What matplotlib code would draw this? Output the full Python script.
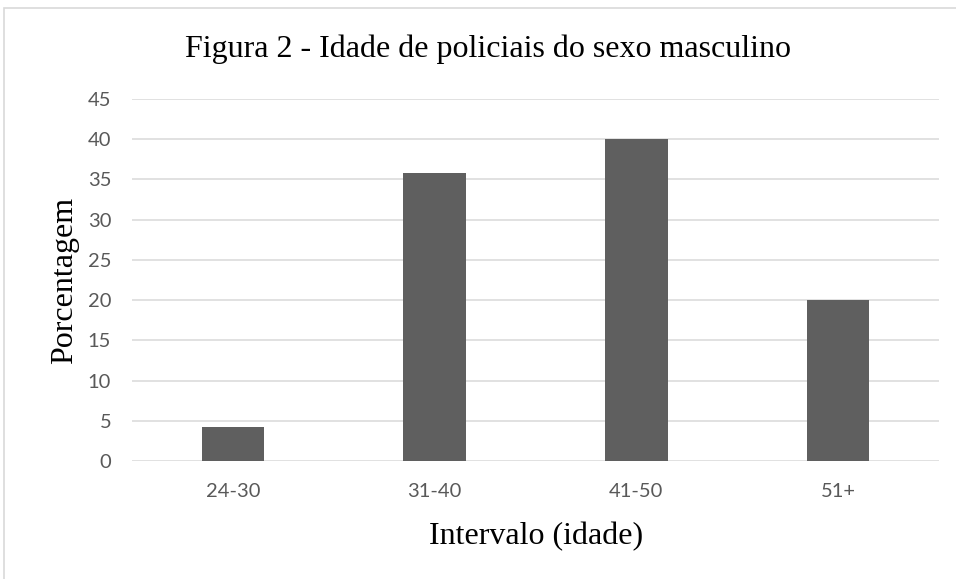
import matplotlib.pyplot as plt
from matplotlib.patches import Rectangle

# Data
categories = ['24-30', '31-40', '41-50', '51+']
percentages = [4.17, 35.83, 40.0, 20.0]
y_ticks = [0, 5, 10, 15, 20, 25, 30, 35, 40, 45]

title_font = ['Liberation Serif', 'DejaVu Serif']
tick_font = ['Lato', 'DejaVu Sans']
W, H = 956, 579

fig = plt.figure(figsize=(W / 100, H / 100), dpi=100)
ax = fig.add_axes([132 / W, 118 / H, 807 / W, 362 / H])

x = range(len(categories))
ax.bar(x, percentages, width=0.31, color='#5f5f5f', zorder=3)

ax.set_xlim(-0.5, len(categories) - 0.5)
ax.set_ylim(0, 45)
ax.set_yticks(y_ticks)
ax.set_xticks(list(x))
ax.set_xticklabels(categories)

# Excel-like gridlines, no spines
ax.grid(axis='y', color='#d9d9d9', linewidth=1.1, zorder=0)
for s in ax.spines.values():
    s.set_visible(False)
ax.tick_params(axis='both', length=0, labelsize=14.5, labelcolor='#595959')
ax.tick_params(axis='y', pad=15)
ax.tick_params(axis='x', pad=16)
for lab in ax.get_xticklabels() + ax.get_yticklabels():
    lab.set_family(tick_font)

fig.text(488 / W, 1 - 57 / H, 'Figura 2 - Idade de policiais do sexo masculino',
         ha='center', va='baseline', fontsize=23, family=title_font)
fig.text(536 / W, 1 - 544 / H, 'Intervalo (idade)',
         ha='center', va='baseline', fontsize=23, family=title_font)
fig.text(72 / W, 1 - 280 / H, 'Porcentagem', rotation=90, rotation_mode='anchor',
         ha='center', va='baseline', fontsize=23, family=title_font)

# light outer border of the chart area
fig.patches.append(Rectangle((4 / W, -0.05), 960 / W, 1.05 - 8 / H,
                             transform=fig.transFigure, fill=False,
                             edgecolor='#d9d9d9', linewidth=1.2))

fig.savefig('out.png', dpi=100, facecolor='white')
